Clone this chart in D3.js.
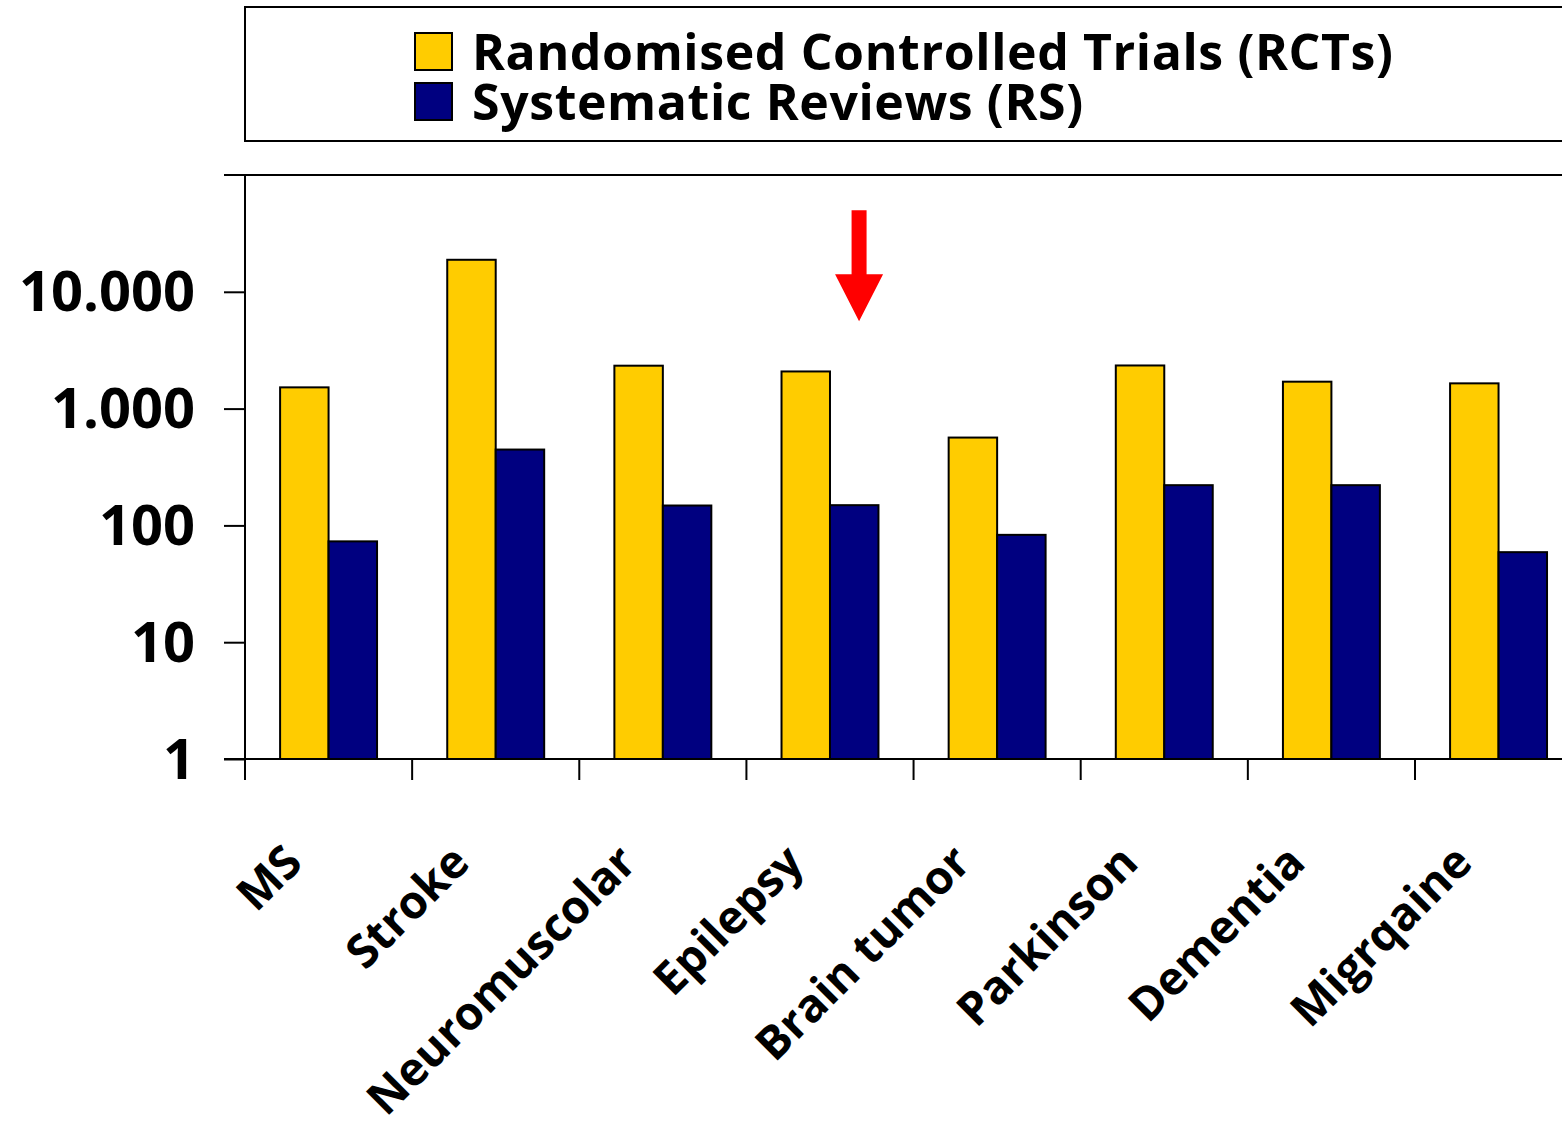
<!DOCTYPE html>
<html>
<head>
<meta charset="utf-8">
<script src="https://cdn.jsdelivr.net/npm/d3@7"></script>
<style>
  html, body { margin: 0; padding: 0; background: #fff; }
  svg text { font-family: "Comic Sans MS", "Open Sans", sans-serif; font-weight: 700; fill: #000; }
</style>
</head>
<body>
<div id="chart"></div>
<script>
// Chart data
const categories = ["MS", "Stroke", "Neuromuscolar", "Epilepsy", "Brain tumor", "Parkinson", "Dementia", "Migrqaine"];
const seriesNames = ["Randomised Controlled Trials (RCTs)", "Systematic Reviews (RS)"];
const rctValues = [1520, 18800, 2330, 2080, 565, 2340, 1700, 1645];
const rsValues = [73, 446, 148, 149, 83, 221, 221, 59];
const yTickValues = [1, 10, 100, 1000, 10000];
const seriesColors = ["#FFCC00", "#000080"];
// arrow annotation (category, value range)
const arrowCategory = "Epilepsy";
const arrowFrom = 50000;
const arrowTo = 5600;

function drawChart() {
  const W = 1562, H = 1124;
  const left = 245, top = 175, bottom = 759;

  const svg = d3.select("#chart")
      .append("svg")
      .attr("width", W)
      .attr("height", H);

  svg.append("rect").attr("width", W).attr("height", H).attr("fill", "#fff");

  // Scales
  const step = 167.14;
  const x0 = d3.scaleBand()
      .domain(categories)
      .range([left, left + step * categories.length])
      .paddingInner(0.42)
      .paddingOuter(0.21);

  const x1 = d3.scaleBand()
      .domain([0, 1])
      .range([0, x0.bandwidth()]);

  const y = d3.scaleLog()
      .domain([1, 100000])
      .range([bottom, top]);

  const locale = d3.formatLocale({ decimal: ",", thousands: ".", grouping: [3], currency: ["", ""] });
  const fmt = locale.format(",d");

  // Legend box
  svg.append("rect")
      .attr("x", left)
      .attr("y", 7)
      .attr("width", 1400)
      .attr("height", 134)
      .attr("fill", "none")
      .attr("stroke", "#000")
      .attr("stroke-width", 2);

  const legend = svg.append("g");
  seriesNames.forEach((name, i) => {
    legend.append("rect")
        .attr("x", 415)
        .attr("y", 33 + i * 50)
        .attr("width", 37)
        .attr("height", 37)
        .attr("fill", seriesColors[i])
        .attr("stroke", "#000")
        .attr("stroke-width", 2);
    legend.append("text")
        .attr("x", 472)
        .attr("y", 70 + i * 50)
        .attr("font-size", 50)
        .attr("letter-spacing", 0.6)
        .text(name);
  });

  // Plot top border
  svg.append("line")
      .attr("x1", 224).attr("x2", W)
      .attr("y1", y(100000)).attr("y2", y(100000))
      .attr("stroke", "#000").attr("stroke-width", 2);

  // Bars
  const data = categories.map((c, i) => ({ cat: c, values: [rctValues[i], rsValues[i]] }));

  const groups = svg.append("g")
      .selectAll("g")
      .data(data)
      .join("g")
      .attr("transform", d => `translate(${x0(d.cat)},0)`);

  groups.selectAll("rect")
      .data(d => d.values.map((v, k) => ({ k, v })))
      .join("rect")
      .attr("x", d => x1(d.k))
      .attr("y", d => y(d.v))
      .attr("width", x1.bandwidth())
      .attr("height", d => y(1) - y(d.v))
      .attr("fill", d => seriesColors[d.k])
      .attr("stroke", "#000")
      .attr("stroke-width", 2);

  // Y axis
  const yAxis = svg.append("g")
      .attr("transform", `translate(${left},0)`)
      .call(d3.axisLeft(y).tickValues(yTickValues).tickFormat(fmt).tickSize(21).tickPadding(29));
  yAxis.select(".domain").remove();
  yAxis.selectAll(".tick line").attr("stroke", "#000").attr("stroke-width", 2);
  yAxis.selectAll(".tick text")
      .attr("font-size", 56)
      .attr("font-family", null)
      .attr("dy", "0.34em");

  svg.append("line")
      .attr("x1", left).attr("x2", left)
      .attr("y1", y(100000)).attr("y2", bottom + 21)
      .attr("stroke", "#000").attr("stroke-width", 2);

  // X axis baseline and ticks between categories
  svg.append("line")
      .attr("x1", 224).attr("x2", W)
      .attr("y1", y(1)).attr("y2", y(1))
      .attr("stroke", "#000").attr("stroke-width", 2);

  svg.append("g")
      .selectAll("line")
      .data(d3.range(categories.length + 1))
      .join("line")
      .attr("x1", i => left + i * x0.step())
      .attr("x2", i => left + i * x0.step())
      .attr("y1", y(1))
      .attr("y2", y(1) + 21)
      .attr("stroke", "#000")
      .attr("stroke-width", 2);

  // Category labels, rotated
  svg.append("g")
      .selectAll("text")
      .data(categories)
      .join("text")
      .attr("transform", d => `translate(${x0(d) + x0.bandwidth() / 2 - 24},${y(1) + 106}) rotate(-45)`)
      .attr("text-anchor", "end")
      .attr("font-size", 46)
      .text(d => d);

  // Red arrow
  const ax = x0(arrowCategory) + x0.bandwidth() * 0.8;
  const yTop = y(arrowFrom), yTip = y(arrowTo);
  const headH = 47, headW = 24, shaftW = 7.5;
  svg.append("path")
      .attr("d", `M${ax - shaftW},${yTop} L${ax + shaftW},${yTop} L${ax + shaftW},${yTip - headH}
                 L${ax + headW},${yTip - headH} L${ax},${yTip} L${ax - headW},${yTip - headH}
                 L${ax - shaftW},${yTip - headH} Z`)
      .attr("fill", "#FF0000");
}

drawChart();
</script>
</body>
</html>
